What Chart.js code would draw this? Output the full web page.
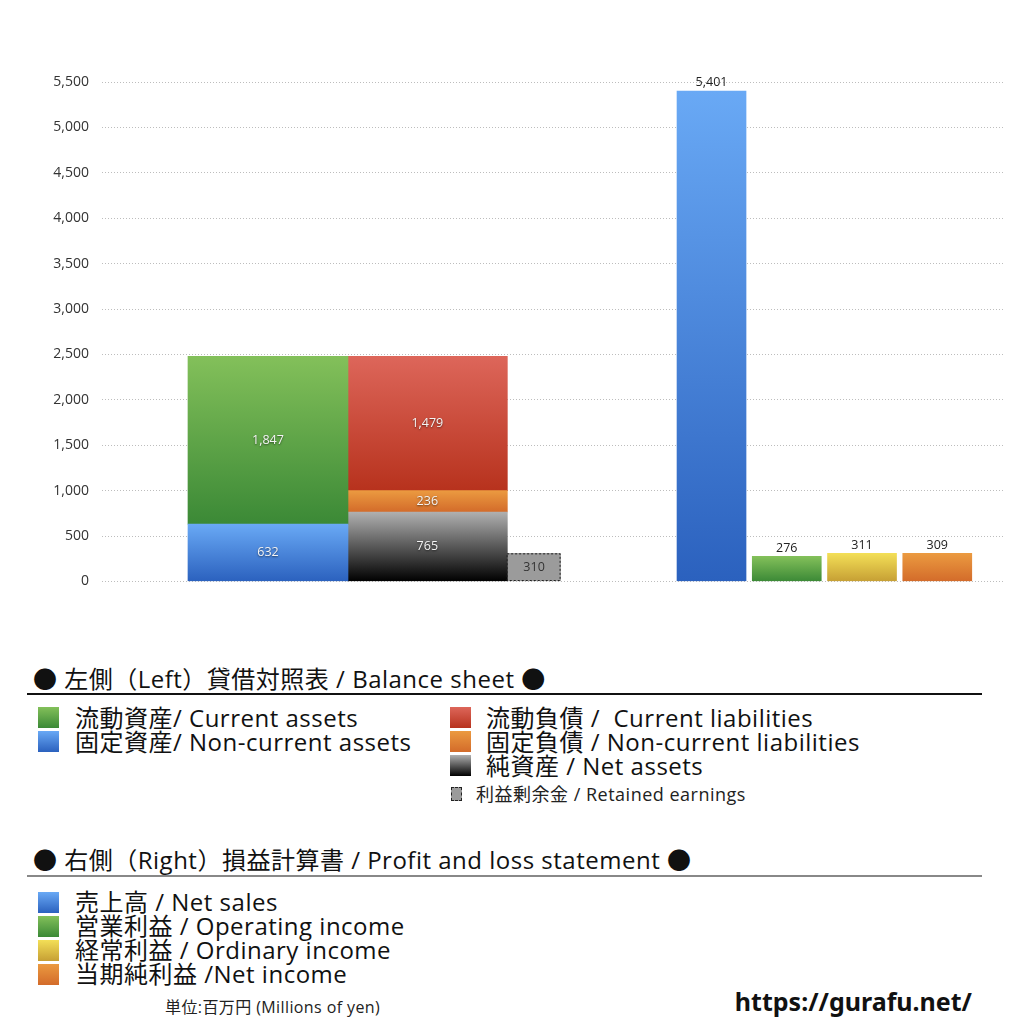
<!DOCTYPE html>
<html lang="ja">
<head>
<meta charset="utf-8">
<title>貸借対照表 / 損益計算書</title>
<script src="https://cdn.jsdelivr.net/npm/chart.js@4.4.1/dist/chart.umd.min.js"></script>
<style>
    html, body { margin: 0; padding: 0; background: #fff; }
    body {
        width: 1024px; height: 1024px; position: relative; overflow: hidden;
        font-family: "Open Sans", "Noto Sans CJK JP", sans-serif; color: #111;
    }
    #chartBox { position: absolute; left: 0; top: 0; width: 1024px; height: 603px; }
    .t { position: absolute; white-space: pre; line-height: 1; }
    .head { font-size: 24px; letter-spacing: 0.5px; }
    .item { font-size: 24px; letter-spacing: 0.5px; }
    .small { font-size: 18px; letter-spacing: 0.5px; color: #222; }
    .unit { font-size: 16px; letter-spacing: 0.4px; color: #222; }
    .sw { position: absolute; width: 21px; height: 21px; }
    .rule { position: absolute; left: 27px; width: 955px; }
    .url { font-family: "Noto Sans", sans-serif; font-weight: bold; font-size: 25px; color: #111; }
</style>
</head>
<body>
<div id="chartBox"><canvas id="bsChart"></canvas></div>
<div id="legendBox"></div>

<script>
// Balance sheet (left side), legend order = top to bottom
const assetNames = ['流動資産/ Current assets', '固定資産/ Non-current assets'];
const assetValues = [1847, 632];
const liabilityNames = ['流動負債 /  Current liabilities', '固定負債 / Non-current liabilities', '純資産 / Net assets'];
const liabilityValues = [1479, 236, 765];
const retainedName = '利益剰余金 / Retained earnings';
const retainedValue = 310;

// Profit and loss statement (right side)
const plNames = ['売上高 / Net sales', '営業利益 / Operating income', '経常利益 / Ordinary income', '当期純利益 /Net income'];
const plValues = [5401, 276, 311, 309];

// Value axis
const yMax = 5500;
const yStep = 500;

// Colours (top, bottom of each gradient)
const GREEN = ['#83c05a', '#3b8936'];
const BLUE = ['#69a9f5', '#2b61be'];
const RED = ['#dd665a', '#b7321d'];
const ORANGE = ['#eb9a40', '#d36b2a'];
const BLACK = ['#b0b0b0', '#000000'];
const YELLOW = ['#f3df57', '#c69f34'];
const GREY = '#9b9b9b';

const assetColors = [GREEN, BLUE];
const liabilityColors = [RED, ORANGE, BLACK];
const plColors = [BLUE, GREEN, YELLOW, ORANGE];

// slot layout of the two hidden category axes
const BS_SLOTS = 68;
const bsSlotOf = { assets: 12, liabilities: 24, retained: 32 };
const PL_SLOTS = 60;
const plSlots = [40, 45, 50, 55];

const FONT = '"Open Sans", "Noto Sans", sans-serif';

function onSlots(count, slots, values) {
    const arr = new Array(count).fill(null);
    slots.forEach((s, k) => { arr[s] = values[k]; });
    return arr;
}

// vertical gradient for each bar segment, computed from the value scale
function gradientFill(colorsFor) {
    return function(context) {
        const colors = colorsFor(context.dataIndex);
        if (context.type !== 'data') return colors[1];
        const chart = context.chart;
        const y = chart.scales.y;
        const ds = context.dataset;
        const v = ds.data[context.dataIndex];
        if (!y || v == null) return colors[1];
        let base = 0;
        chart.data.datasets.forEach((other, i) => {
            if (i < context.datasetIndex && other.stack === ds.stack && other.xAxisID === ds.xAxisID) {
                base += other.data[context.dataIndex] || 0;
            }
        });
        const top = y.getPixelForValue(base + v);
        const bottom = y.getPixelForValue(base);
        if (!isFinite(top) || !isFinite(bottom) || top === bottom) return colors[1];
        const g = chart.ctx.createLinearGradient(0, top, 0, bottom);
        g.addColorStop(0, colors[0]);
        g.addColorStop(1, colors[1]);
        return g;
    };
}

function buildDatasets() {
    const sets = [];
    // stacks are drawn bottom-up, so walk the legend lists in reverse
    for (let k = assetValues.length - 1; k >= 0; k--) {
        sets.push({
            label: assetNames[k],
            data: onSlots(BS_SLOTS, [bsSlotOf.assets], [assetValues[k]]),
            xAxisID: 'xBS', stack: 'assets', grouped: false, barThickness: 160,
            backgroundColor: gradientFill(() => assetColors[k]),
            labelPos: 'inside'
        });
    }
    for (let k = liabilityValues.length - 1; k >= 0; k--) {
        sets.push({
            label: liabilityNames[k],
            data: onSlots(BS_SLOTS, [bsSlotOf.liabilities], [liabilityValues[k]]),
            xAxisID: 'xBS', stack: 'liabilities', grouped: false, barThickness: 160,
            backgroundColor: gradientFill(() => liabilityColors[k]),
            labelPos: 'inside'
        });
    }
    sets.push({
        label: retainedName,
        data: onSlots(BS_SLOTS, [bsSlotOf.retained], [retainedValue]),
        xAxisID: 'xBS', stack: 'retained', grouped: false, barThickness: 54,
        backgroundColor: GREY,
        labelPos: 'insideDark', dashed: true
    });
    sets.push({
        label: 'PL',
        data: onSlots(PL_SLOTS, plSlots, plValues),
        xAxisID: 'xPL', stack: 'pl', grouped: false, barThickness: 69,
        backgroundColor: gradientFill(i => plColors[plSlots.indexOf(i)] || BLUE),
        labelPos: 'top'
    });
    return sets;
}

// value labels and the dashed outline of the retained earnings bar
const barLabels = {
    id: 'barLabels',
    afterDatasetsDraw(chart) {
        const c = chart.ctx;
        chart.data.datasets.forEach((ds, di) => {
            const meta = chart.getDatasetMeta(di);
            meta.data.forEach((bar, i) => {
                const v = ds.data[i];
                if (v == null) return;
                const p = bar.getProps(['x', 'y', 'base', 'width'], true);
                c.save();
                if (ds.dashed) {
                    c.setLineDash([2, 2]);
                    c.strokeStyle = '#222';
                    c.lineWidth = 1;
                    c.strokeRect(p.x - p.width / 2 + 0.5, p.y + 0.5, p.width - 1, p.base - p.y - 1);
                    c.setLineDash([]);
                }
                const text = v.toLocaleString('en-US');
                c.font = '12.5px ' + FONT;
                c.textAlign = 'center';
                if (ds.labelPos === 'top') {
                    c.fillStyle = '#222';
                    c.textBaseline = 'bottom';
                    c.fillText(text, p.x, p.y - 2);
                } else if (ds.labelPos === 'insideDark') {
                    c.fillStyle = '#333';
                    c.textBaseline = 'middle';
                    c.fillText(text, p.x + 0.5, (p.y + p.base) / 2);
                } else {
                    c.fillStyle = '#f4f4f4';
                    c.shadowColor = 'rgba(0,0,0,0.55)';
                    c.shadowBlur = 2;
                    c.shadowOffsetY = 1;
                    c.textBaseline = 'middle';
                    c.fillText(text, p.x, (p.y + p.base) / 2);
                }
                c.restore();
            });
        });
    }
};

function initChart() {
    const ctx = document.getElementById('bsChart').getContext('2d');
    new Chart(ctx, {
        type: 'bar',
        data: { datasets: buildDatasets() },
        options: {
            responsive: true,
            maintainAspectRatio: false,
            animation: false,
            events: [],
            // bottom padding must exceed the y axis label overhang (~21px)
            layout: { padding: { left: 52, top: 82, right: 19, bottom: 21.5 } },
            plugins: { legend: { display: false }, tooltip: { enabled: false } },
            scales: {
                xBS: {
                    type: 'category', labels: new Array(BS_SLOTS).fill(''),
                    display: false, offset: true, stacked: true
                },
                xPL: {
                    type: 'category', labels: new Array(PL_SLOTS).fill(''),
                    display: false, offset: true, stacked: true
                },
                y: {
                    min: 0, max: yMax, stacked: true,
                    afterFit(scale) { scale.width = 50; },
                    ticks: {
                        stepSize: yStep, padding: 13, color: '#333',
                        font: { size: 14, family: FONT },
                        callback: v => v.toLocaleString('en-US')
                    },
                    grid: { color: '#bdbdbd', drawTicks: false, lineWidth: 1 },
                    border: { display: false, dash: [1, 2] }
                }
            }
        },
        plugins: [barLabels]
    });
}

// legend below the chart, plain HTML
function addText(cls, text, left, top) {
    const el = document.createElement('div');
    el.className = 't ' + cls;
    el.textContent = text;
    el.style.left = left + 'px';
    el.style.top = top + 'px';
    document.getElementById('legendBox').appendChild(el);
    return el;
}

function addSwatch(colors, left, top, w, h) {
    const el = document.createElement('div');
    el.className = 'sw';
    el.style.left = left + 'px';
    el.style.top = top + 'px';
    if (w) { el.style.width = w + 'px'; el.style.height = h + 'px'; }
    el.style.background = Array.isArray(colors)
        ? 'linear-gradient(' + colors[0] + ',' + colors[1] + ')' : colors;
    document.getElementById('legendBox').appendChild(el);
    return el;
}

function addRule(top, color, thick) {
    const el = document.createElement('div');
    el.className = 'rule';
    el.style.top = top + 'px';
    el.style.height = thick + 'px';
    el.style.background = color;
    document.getElementById('legendBox').appendChild(el);
}

function initLegend() {
    const rowH = 24;
    addText('head', '● 左側（Left）貸借対照表 / Balance sheet ●', 33, 667);
    addRule(693, '#111', 1.5);
    assetNames.forEach((name, k) => {
        addSwatch(assetColors[k], 38, 707 + k * rowH);
        addText('item', name, 75, 706 + k * rowH);
    });
    liabilityNames.forEach((name, k) => {
        addSwatch(liabilityColors[k], 450, 707 + k * rowH);
        addText('item', name, 486, 706 + k * rowH);
    });
    const re = addSwatch(GREY, 451, 787, 11, 14);
    re.style.boxSizing = 'border-box';
    re.style.border = '1px dashed #222';
    addText('small', retainedName, 476, 785);

    addText('head', '● 右側（Right）損益計算書 / Profit and loss statement ●', 33, 848);
    addRule(875, '#888', 2);
    plNames.forEach((name, k) => {
        addSwatch(plColors[k], 38, 892 + k * rowH);
        addText('item', name, 75, 890 + k * rowH);
    });

    addText('unit', '単位:百万円 (Millions of yen)', 165, 999);
    const url = addText('url', 'https://gurafu.net/', 0, 989);
    url.style.left = 'auto';
    url.style.right = (1024 - 972) + 'px';
}

document.addEventListener('DOMContentLoaded', function() {
    initChart();
    initLegend();
});
</script>
</body>
</html>
